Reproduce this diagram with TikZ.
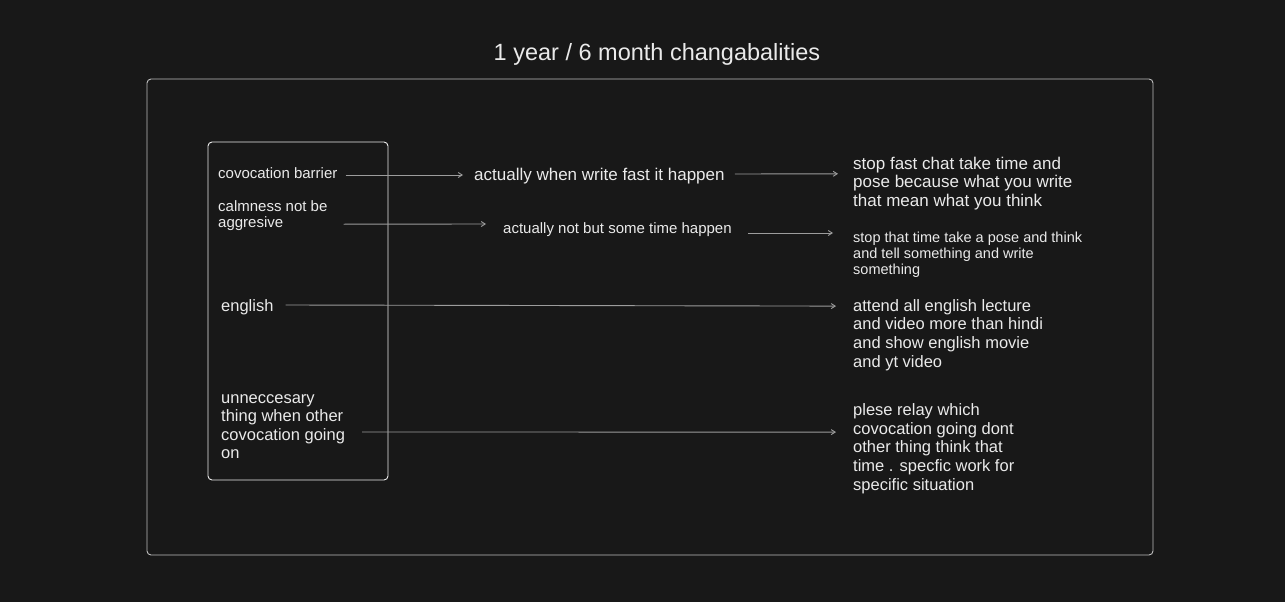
\documentclass[tikz,border=0pt]{standalone}
\usepackage{fontspec}
\setmainfont{Liberation Sans}
\usetikzlibrary{arrows.meta}
\definecolor{bg}{HTML}{181818}
\definecolor{txt}{HTML}{EAEAEA}
\definecolor{frame}{HTML}{BEBEBE}
\definecolor{arr}{HTML}{9C9C9C}
\tikzset{
  lbl/.style={text=txt, inner sep=0pt, align=left},
  fa/.style={font=\fontsize{15}{16}\selectfont},
  fb/.style={font=\fontsize{17}{18.5}\selectfont},
  fc/.style={font=\fontsize{14.5}{16}\selectfont},
  fd/.style={font=\fontsize{16.5}{18.6}\selectfont},
  conn/.style={draw=arr, line width=0.9pt, -{Straight Barb[length=4pt,width=5pt]}},
  boxline/.style={draw=frame, line width=0.9pt, rounded corners=4pt}
}
\begin{document}
\begin{tikzpicture}[x=1pt,y=-1pt]
\useasboundingbox[fill=bg] (0,0) rectangle (1285,602);
% title
\node[lbl, font=\fontsize{23.5}{27}\selectfont, anchor=base] (title) at (657,60) {1 year / 6 month changabalities};
% frames
\draw[boxline] (147,79) rectangle (1153,555);
\draw[boxline, draw=txt!90] (208,142) rectangle (388,480);
% left column
\node[lbl, fa, anchor=base west] (cb) at (218,178) {covocation barrier};
\node[lbl, fa, anchor=north west] (cn) at (218,200.2) {calmness not be\\aggresive};
\node[lbl, fd, anchor=base west] (en) at (221,311) {english};
\node[lbl, fd, anchor=north west] (un) at (221,394) {unneccesary\\thing when other\\covocation going\\on};
% middle column
\node[lbl, fb, anchor=base west] (aw) at (474,180) {actually when write fast it happen};
\node[lbl, fa, anchor=base west] (an) at (503,233) {actually not but some time happen};
% right column
\node[lbl, fb, anchor=north west] (r1) at (853,156.8) {stop fast chat take time and\\pose because what you write\\that mean what you think};
\node[lbl, fc, anchor=north west] (r2) at (853,231.6) {stop that time take a pose and think\\and tell something and write\\something};
\node[lbl, fd, anchor=north west] (r3) at (853,299.1) {attend all english lecture\\and video more than hindi\\and show english movie\\and yt video};
\node[lbl, fd, anchor=north west] (r4) at (853,403.6) {plese relay which\\covocation going dont\\other thing think that\\time . specfic work for\\specific situation};
% connectors
\draw[conn] ([shift={(8,-3)}]cb.base east) -- ([shift={(-11,-5)}]aw.base west);
\draw[conn] ([shift={(10,-6)}]aw.base east) -- ([shift={(-15,17)}]r1.north west);
\draw[conn] ([shift={(16,24)}]cn.north east) -- ([shift={(-17,-9)}]an.base west);
\draw[conn] ([shift={(16,0)}]an.base east) -- ([shift={(-20,1.4)}]r2.north west);
\draw[conn] ([shift={(12,-6)}]en.base east) -- ([shift={(-17,7)}]r3.north west);
\draw[conn] ([shift={(17,38)}]un.north east) -- ([shift={(-17,28.5)}]r4.north west);
\end{tikzpicture}
\end{document}
